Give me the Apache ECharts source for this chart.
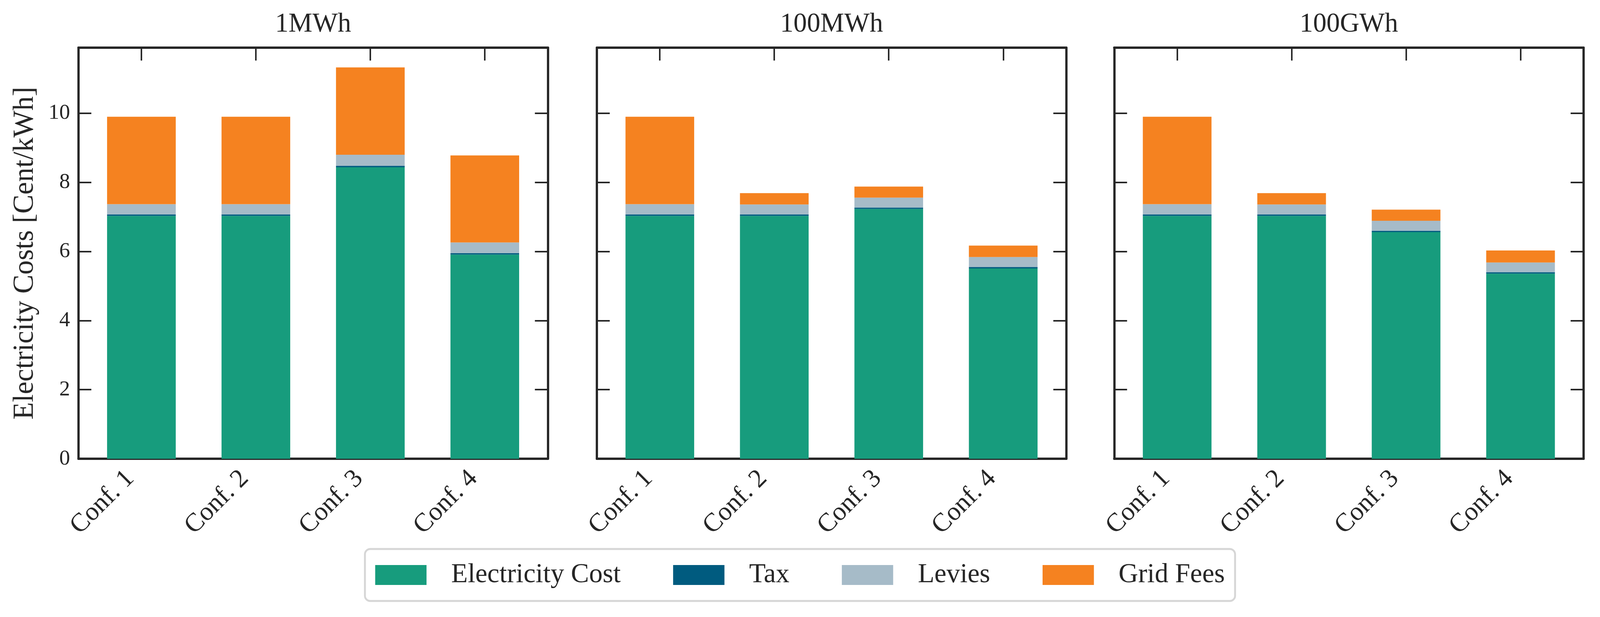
<!DOCTYPE html>
<html>
<head>
<meta charset="utf-8">
<script src="https://cdn.jsdelivr.net/npm/echarts@6/dist/echarts.min.js"></script>
<style>
html, body { margin: 0; padding: 0; background: #fff; overflow: hidden; }
#chart { width: 100vw; height: 100vh; }
</style>
</head>
<body>
<div id="chart"></div>
<script>
// categories / labels
var confNames = ['Conf. 1', 'Conf. 2', 'Conf. 3', 'Conf. 4'];
var confIndex = [0, 1, 2, 3];
var panelTitles = ['1MWh', '100MWh', '100GWh'];
var seriesNames = ['Electricity Cost', 'Tax', 'Levies', 'Grid Fees'];
var yTicks = [0, 2, 4, 6, 8, 10];

// values per panel [1MWh, 100MWh, 100GWh], Cent/kWh
var elecCost = [
    [7.03, 7.03, 8.44, 5.91],
    [7.03, 7.03, 7.23, 5.51],
    [7.03, 7.03, 6.56, 5.36]
];
var tax = [
    [0.04, 0.04, 0.04, 0.04],
    [0.04, 0.04, 0.04, 0.04],
    [0.04, 0.04, 0.04, 0.04]
];
var levies = [
    [0.30, 0.30, 0.32, 0.31],
    [0.30, 0.29, 0.29, 0.29],
    [0.30, 0.29, 0.29, 0.28]
];
var gridFees = [
    [2.53, 2.53, 2.53, 2.52],
    [2.53, 0.33, 0.32, 0.33],
    [2.53, 0.33, 0.32, 0.35]
];

var colors = ['#179c7d', '#005b7f', '#a6bbc8', '#f58220'];
var dark = '#262626';
var font = 'Liberation Serif';

var el = document.getElementById('chart');
var chart = echarts.init(el);
var W = chart.getWidth(), H = chart.getHeight();
// layout is measured on a 4364x1579 figure, scaled to the real window
var sx = W / 4364, sy = H / 1579, sf = Math.sqrt(sx * sy);

// x range of each panel, like pandas: -0.55 .. 3.55
var xMin = -0.55, xMax = 3.55;
var panelLeft = [214, 1628, 3039];
var panelW = 1280, panelTop = 122, panelH = 1052;

var grids = [], xAxes = [], yAxes = [], titles = [], series = [];
var tick = {show: true, inside: true, length: 34 * sf, lineStyle: {color: dark, width: 4 * sf}};
var line = {show: true, onZero: false, lineStyle: {color: dark, width: 6 * sf}};

for (var g = 0; g < 3; g++) {
    var L = panelLeft[g] * sx, Wp = panelW * sx, T = panelTop * sy, Hp = panelH * sy;
    // frame grid (spines, ticks, labels)
    grids.push({left: L, top: T, width: Wp, height: Hp});
    // bar grid: category bands matching the frame's x range
    grids.push({left: L + Wp * (-0.5 - xMin) / (xMax - xMin), top: T,
                width: Wp * 4 / (xMax - xMin), height: Hp});

    titles.push({
        text: panelTitles[g],
        left: L + Wp / 2,
        textAlign: 'center',
        top: 28 * sy,
        padding: 0,
        textStyle: {fontFamily: font, fontSize: 71 * sf, fontWeight: 'normal', color: dark}
    });

    xAxes.push({
        type: 'value', gridIndex: 2 * g, position: 'bottom', min: xMin, max: xMax,
        axisLine: line, splitLine: {show: false},
        axisTick: Object.assign({customValues: confIndex}, tick),
        axisLabel: {
            customValues: confIndex, rotate: 45, margin: 12 * sy,
            padding: [0, 42 * sf, 0, 0],
            fontFamily: font, fontSize: 69 * sf, color: dark,
            formatter: function (v) { return confNames[Math.round(v)]; }
        }
    });
    xAxes.push({
        type: 'value', gridIndex: 2 * g, position: 'top', min: xMin, max: xMax,
        axisLine: line, splitLine: {show: false},
        axisTick: Object.assign({customValues: confIndex}, tick),
        axisLabel: {show: false}
    });
    xAxes.push({
        type: 'category', gridIndex: 2 * g + 1, data: confNames, show: false
    });

    yAxes.push({
        type: 'value', gridIndex: 2 * g, position: 'left', min: 0, max: 11.9,
        axisLine: line, splitLine: {show: false},
        axisTick: Object.assign({customValues: yTicks}, tick),
        axisLabel: {
            show: g === 0, customValues: yTicks, margin: 23 * sx,
            fontFamily: font, fontSize: 57 * sf, color: dark
        },
        name: g === 0 ? 'Electricity Costs [Cent/kWh]' : '',
        nameLocation: 'middle', nameGap: 106 * sx,
        nameTextStyle: {fontFamily: font, fontSize: 73 * sy, color: dark}
    });
    yAxes.push({
        type: 'value', gridIndex: 2 * g, position: 'right', min: 0, max: 11.9,
        axisLine: line, splitLine: {show: false},
        axisTick: Object.assign({customValues: yTicks}, tick),
        axisLabel: {show: false}
    });
    yAxes.push({
        type: 'value', gridIndex: 2 * g + 1, min: 0, max: 11.9, show: false
    });

    var parts = [elecCost[g], tax[g], levies[g], gridFees[g]];
    for (var s = 0; s < 4; s++) {
        series.push({
            name: seriesNames[s],
            type: 'bar',
            stack: 'panel' + g,
            xAxisIndex: 3 * g + 2,
            yAxisIndex: 3 * g + 2,
            barWidth: '60%',
            itemStyle: {color: colors[s]},
            z: 1,
            data: parts[s]
        });
    }
}

chart.setOption({
    backgroundColor: '#fff',
    animation: false,
    title: titles,
    legend: {
        data: seriesNames,
        left: 'center',
        top: 1405 * sy,
        orient: 'horizontal',
        icon: 'rect',
        itemWidth: 140 * sx,
        itemHeight: 51 * sy,
        itemGap: 143 * sx,
        padding: [32 * sy, 28 * sx, 32 * sy, 28 * sx],
        borderColor: '#d6d6d6',
        borderWidth: 5 * sf,
        borderRadius: 14 * sf,
        textStyle: {fontFamily: font, fontSize: 74 * sx, color: dark, padding: [0, 0, 0, 62 * sx]}
    },
    grid: grids,
    xAxis: xAxes,
    yAxis: yAxes,
    series: series
});
</script>
</body>
</html>
